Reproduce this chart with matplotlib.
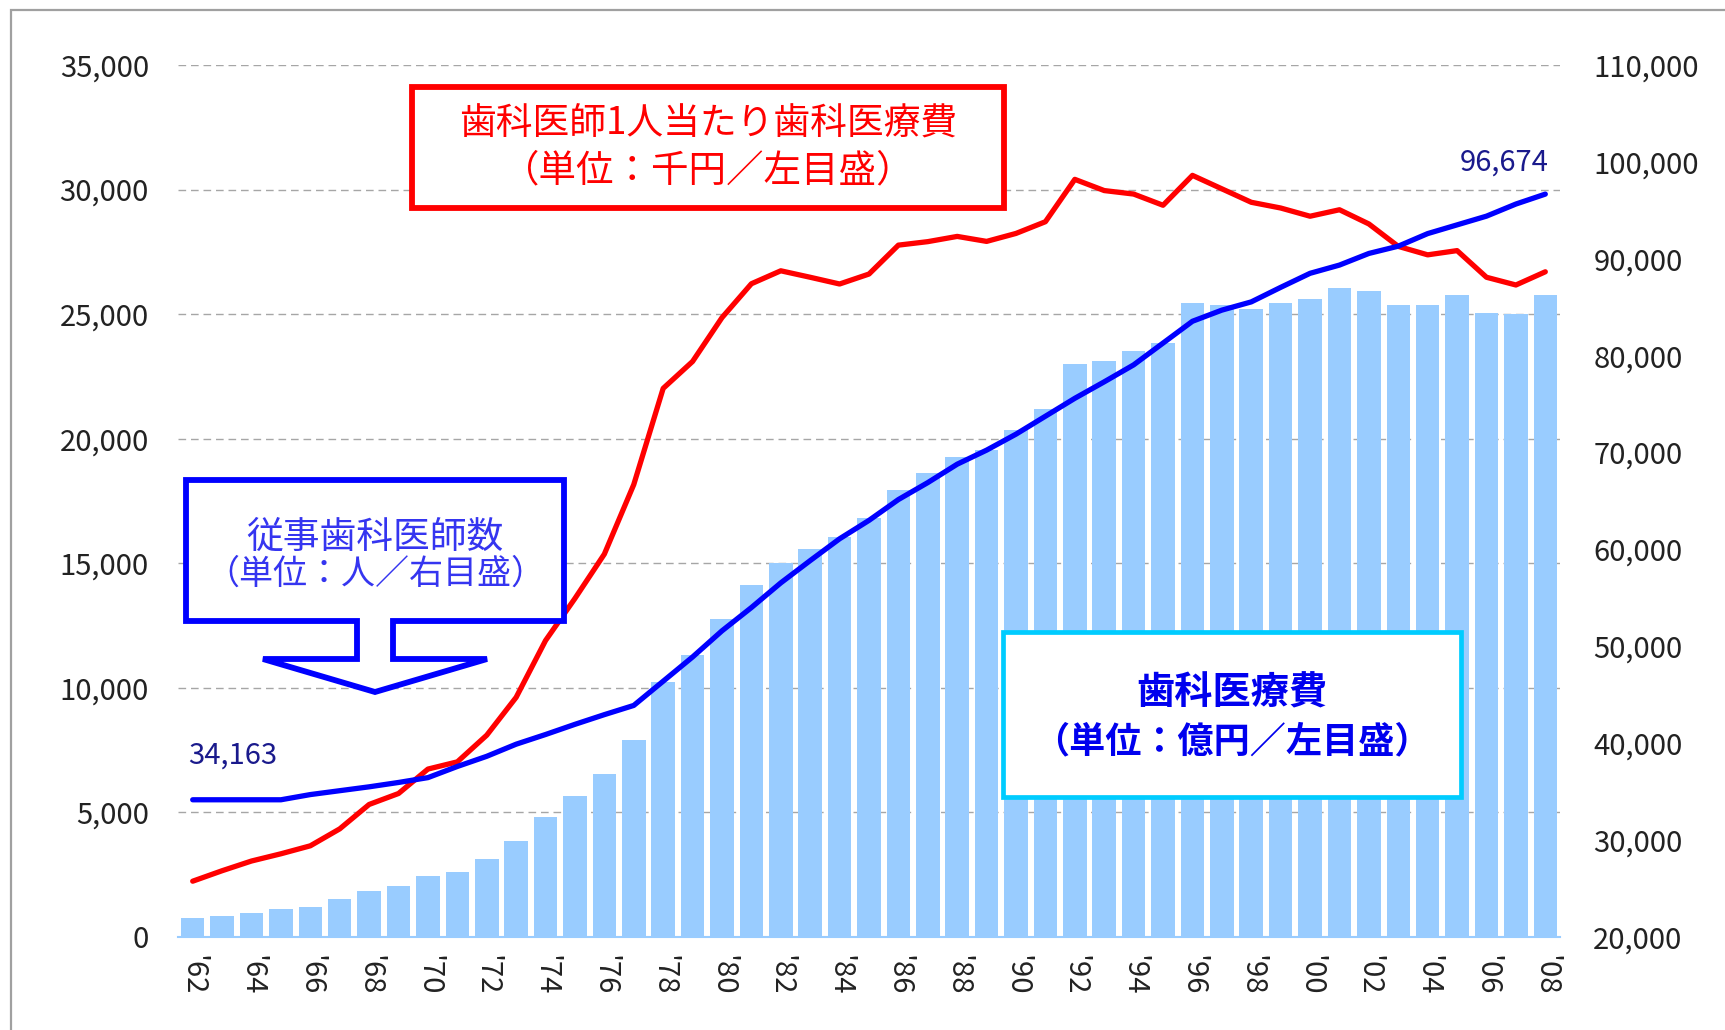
import matplotlib
matplotlib.use("Agg")
import matplotlib.pyplot as plt
from matplotlib.patches import Rectangle, Polygon
import numpy as np

plt.rcParams['font.family'] = ['Noto Sans CJK JP', 'DejaVu Sans']

# ---------------- data ----------------
years = list(range(1962, 2009))
tick_labels = ["'62", "", "'64", "", "'66", "", "'68", "", "'70", "", "'72", "",
               "'74", "", "'76", "", "'78", "", "'80", "", "'82", "", "'84", "",
               "'86", "", "'88", "", "'90", "", "'92", "", "'94", "", "'96", "",
               "'98", "", "'00", "", "'02", "", "'04", "", "'06", "", "'08"]

# 歯科医療費 (億円, left axis)
dental_cost = [770, 850, 960, 1125, 1205, 1530, 1850, 2045, 2450, 2610,
               3145, 3855, 4825, 5665, 6550, 7920, 10230, 11330, 12780, 14110,
               15010, 15560, 16045, 16805, 17950, 18630, 19255, 19565, 20340, 21180,
               22990, 23110, 23525, 23845, 25440, 25360, 25200, 25440, 25600, 26045,
               25925, 25360, 25360, 25765, 25040, 25000, 25765]

# 歯科医師1人当たり歯科医療費 (千円, left axis)
cost_per_dentist = [2240, 2660, 3050, 3340, 3660, 4340, 5320, 5760, 6740, 7030,
                    8100, 9620, 11900, 13590, 15370, 18160, 22020, 23100, 24860, 26220,
                    26740, 26480, 26210, 26610, 27770, 27910, 28120, 27920, 28240, 28710,
                    30410, 29960, 29820, 29370, 30570, 30030, 29490, 29260, 28930, 29190,
                    28620, 27720, 27380, 27550, 26480, 26170, 26700]

# 従事歯科医師数 (人, right axis)
dentists = [34163, 34163, 34163, 34163, 34700, 35100, 35500, 35950, 36450, 37600,
            38650, 39900, 40900, 41950, 42950, 43900, 46400, 48900, 51600, 54000,
            56550, 58850, 61100, 63000, 65150, 66900, 68800, 70250, 71900, 73750,
            75600, 77300, 79050, 81300, 83550, 84700, 85550, 87050, 88500, 89350,
            90550, 91300, 92600, 93500, 94400, 95650, 96674]

left_ticks = [0, 5000, 10000, 15000, 20000, 25000, 30000, 35000]
right_ticks = [20000, 30000, 40000, 50000, 60000, 70000, 80000, 90000, 100000, 110000]

# ---------------- figure ----------------
W, H = 1725, 1030
fig = plt.figure(figsize=(W / 100, H / 100), dpi=100)

def fx(px):
    return px / W

def fy(py):
    return 1 - py / H

ax = fig.add_axes([fx(178), fy(937), fx(1560) - fx(178), fy(65) - fy(937)])
x = np.arange(len(years))

bar_color = '#99CCFF'
ax.bar(x, dental_cost, width=0.8, color=bar_color, zorder=2)
ax.plot(x, cost_per_dentist, color='#FF0000', lw=3.8, zorder=3, solid_capstyle='round')

ax.set_xlim(-0.5, len(years) - 0.5)
ax.set_ylim(0, 35000)
ax.set_yticks(left_ticks)
ax.set_yticklabels([f"{v:,}" for v in left_ticks], fontsize=21, color='#222222')
ax.set_xticks(x)
ax.set_xticklabels(tick_labels, rotation=-90, fontsize=21, color='#222222',
                   va='top', ha='center')
ax.tick_params(axis='both', length=0)
ax.tick_params(axis='y', pad=21)
ax.tick_params(axis='x', pad=13)
for s in ['top', 'right', 'left']:
    ax.spines[s].set_visible(False)
ax.spines['bottom'].set_color(bar_color)
ax.spines['bottom'].set_linewidth(1.5)
ax.yaxis.grid(True, color='#A6A6A6', lw=1.0, linestyle=(0, (5.5, 3.5)), zorder=0)
ax.set_axisbelow(True)

ax2 = ax.twinx()
ax2.plot(x, dentists, color='#0000FF', lw=3.8, zorder=4, solid_capstyle='round')
ax2.set_ylim(20000, 110000)
ax2.set_yticks(right_ticks)
ax2.set_yticklabels([f"{v:,}" for v in right_ticks], fontsize=21, color='#222222')
ax2.tick_params(axis='both', length=0)
ax2.tick_params(axis='y', pad=24)
for s in ['top', 'right', 'left', 'bottom']:
    ax2.spines[s].set_visible(False)

# value labels
ax2.annotate(f"{dentists[0]:,}", xy=(x[0], dentists[0]), xytext=(fx(188), fy(756)),
             textcoords='figure fraction', ha='left', va='center',
             fontsize=21, color='#1A1A8C')
ax2.annotate(f"{dentists[-1]:,}", xy=(x[-1], dentists[-1]), xytext=(fx(1549), fy(163)),
             textcoords='figure fraction', ha='right', va='center',
             fontsize=21, color='#1A1A8C')

# ---------------- outer frame ----------------
fig.patches.append(Rectangle((fx(11), fy(1100)), fx(1800), fy(10) - fy(1100),
                             transform=fig.transFigure, fill=False,
                             edgecolor='#A0A0A0', lw=1.6, zorder=0))

# ---------------- red box ----------------
fig.patches.append(Rectangle((fx(412), fy(208)), fx(1004) - fx(412), fy(87) - fy(208),
                             transform=fig.transFigure, facecolor='white',
                             edgecolor='#FF0000', lw=4.2, zorder=5))
fig.text(fx(708), fy(124), "歯科医師1人当たり歯科医療費", ha='center', va='center',
         fontsize=26.5, color='#FF0000', zorder=6)
fig.text(fx(708), fy(171), "（単位：千円／左目盛）", ha='center', va='center',
         fontsize=27, color='#FF0000', zorder=6)

# ---------------- blue callout ----------------
callout = [(186, 480), (564, 480), (564, 621), (393, 621), (393, 659), (487, 659),
           (375, 692), (263, 659), (357, 659), (357, 621), (186, 621)]
fig.patches.append(Polygon([(fx(a), fy(b)) for a, b in callout], closed=True,
                           transform=fig.transFigure, facecolor='white',
                           edgecolor='#0000FF', lw=4.2, joinstyle='miter', zorder=5))
fig.text(fx(375), fy(537), "従事歯科医師数", ha='center', va='center',
         fontsize=26.5, color='#3535F0', zorder=6)
fig.text(fx(375), fy(574), "（単位：人／右目盛）", ha='center', va='center',
         fontsize=24.5, color='#3535F0', zorder=6)

# ---------------- cyan box ----------------
fig.patches.append(Rectangle((fx(1003), fy(797)), fx(1461) - fx(1003), fy(632) - fy(797),
                             transform=fig.transFigure, facecolor='white',
                             edgecolor='#00CCFF', lw=3.4, zorder=5))
fig.text(fx(1232), fy(693), "歯科医療費", ha='center', va='center',
         fontsize=27.5, color='#0000EE', fontweight='bold', zorder=6)
fig.text(fx(1232), fy(742), "（単位：億円／左目盛）", ha='center', va='center',
         fontsize=26, color='#0000EE', fontweight='bold', zorder=6)

fig.savefig("out.png", dpi=100)
